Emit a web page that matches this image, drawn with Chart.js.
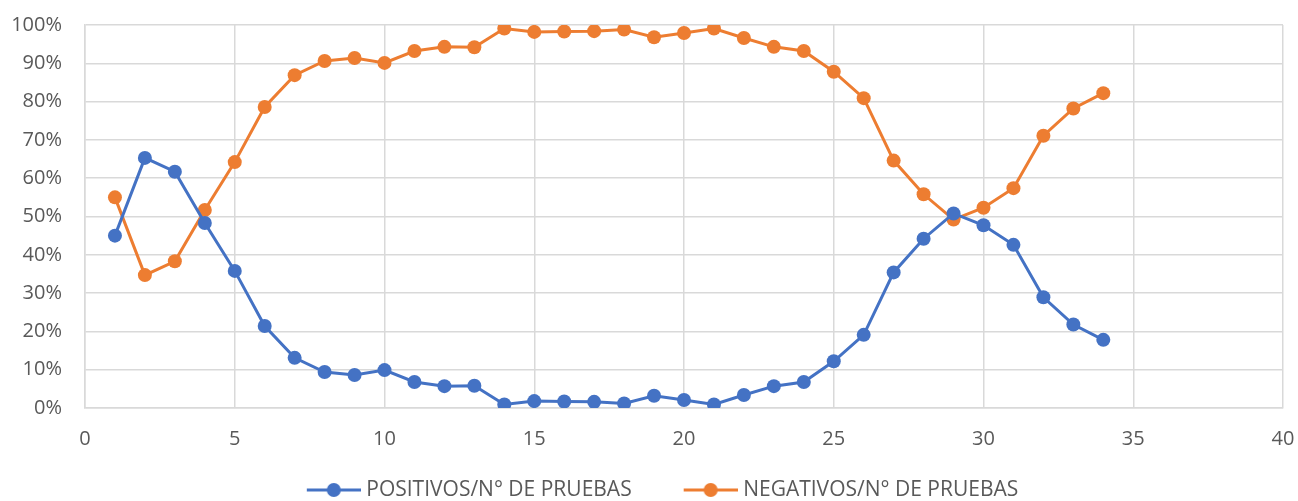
<!DOCTYPE html>
<html>
<head>
<meta charset="utf-8">
<script src="https://cdn.jsdelivr.net/npm/chart.js@4"></script>
<style>
  html, body { margin: 0; padding: 0; background: #ffffff; }
  #wrap { width: 1298px; height: 501px; }
</style>
</head>
<body>
<div id="wrap"><canvas id="lineChart" width="1298" height="501"></canvas></div>
<script>
const semanas = [1, 2, 3, 4, 5, 6, 7, 8, 9, 10, 11, 12, 13, 14, 15, 16, 17,
  18, 19, 20, 21, 22, 23, 24, 25, 26, 27, 28, 29, 30, 31, 32, 33, 34];
const positivos = [45.0, 65.3, 61.7, 48.3, 35.8, 21.4, 13.1, 9.4, 8.6, 9.9, 6.8, 5.7, 5.8,
  0.9, 1.8, 1.7, 1.6, 1.2, 3.2, 2.1, 0.9, 3.4, 5.7, 6.8, 12.2, 19.1, 35.4, 44.2,
  50.8, 47.7, 42.6, 28.9, 21.8, 17.8];
const negativos = [55.0, 34.7, 38.3, 51.7, 64.2, 78.6, 86.9, 90.6, 91.4, 90.1, 93.2, 94.3, 94.2,
  99.1, 98.2, 98.3, 98.4, 98.8, 96.8, 97.9, 99.1, 96.6, 94.3, 93.2, 87.8, 80.9, 64.6, 55.8,
  49.2, 52.3, 57.4, 71.1, 78.2, 82.2];
const xTicks = [0, 5, 10, 15, 20, 25, 30, 35, 40];
const seriesNames = ['POSITIVOS/N° DE PRUEBAS', 'NEGATIVOS/N° DE PRUEBAS'];

const blue = '#4472C4';
const orange = '#ED7D31';
const gridColor = '#D9D9D9';
const textColor = '#595959';
const fontFamily = '"Open Sans", "Noto Sans", sans-serif';

// legend marker: line with a dot, pushed to the right so it sits close to the text
// (the blank part on the left gives the wider gap between the two entries)
function legendMarker(color) {
  const c = document.createElement('canvas');
  c.width = 101;
  c.height = 16;
  const g = c.getContext('2d');
  g.strokeStyle = color;
  g.lineWidth = 3;
  g.beginPath();
  g.moveTo(47, 8);
  g.lineTo(101, 8);
  g.stroke();
  g.fillStyle = color;
  g.beginPath();
  g.arc(74, 8, 7, 0, Math.PI * 2);
  g.fill();
  return c;
}

function toPoints(values) {
  return semanas.map((s, i) => ({ x: s, y: values[i] }));
}

document.addEventListener('DOMContentLoaded', function () {
  const ctx = document.getElementById('lineChart').getContext('2d');

  new Chart(ctx, {
    type: 'line',
    data: {
      datasets: [{
        label: seriesNames[0],
        data: toPoints(positivos),
        borderColor: blue,
        backgroundColor: blue,
        borderWidth: 3,
        pointRadius: 7,
        pointBorderWidth: 0,
        pointStyle: 'circle',
        legendMarker: legendMarker(blue)
      }, {
        label: seriesNames[1],
        data: toPoints(negativos),
        borderColor: orange,
        backgroundColor: orange,
        borderWidth: 3,
        pointRadius: 7,
        pointBorderWidth: 0,
        pointStyle: 'circle',
        legendMarker: legendMarker(orange)
      }]
    },
    options: {
      responsive: false,
      animation: false,
      layout: { autoPadding: false, padding: { top: 25, right: 15, left: 0, bottom: -9.5 } },
      plugins: {
        tooltip: { enabled: false },
        legend: {
          position: 'bottom',
          labels: {
            color: textColor,
            font: { size: 21, family: fontFamily },
            usePointStyle: true,
            pointStyleWidth: 91,
            padding: 10,
            generateLabels: function (chart) {
              return chart.data.datasets.map((ds, i) => ({
                text: ds.label,
                fontColor: textColor,
                pointStyle: ds.legendMarker,
                datasetIndex: i,
                hidden: false,
                lineWidth: 0
              }));
            }
          }
        }
      },
      scales: {
        x: {
          type: 'linear',
          min: 0,
          max: 40,
          afterBuildTicks: function (axis) {
            axis.ticks = xTicks.map(v => ({ value: v }));
          },
          afterFit: function (axis) {
            axis.height = 61.5;
            axis.paddingLeft = 0;
            axis.paddingRight = 0;
          },
          ticks: {
            color: textColor,
            font: { size: 20, family: fontFamily },
            padding: 19,
            maxRotation: 0
          },
          grid: { color: gridColor, lineWidth: 1.5, drawTicks: false },
          border: { color: gridColor, width: 1.5 }
        },
        y: {
          min: 0,
          max: 100,
          afterFit: function (axis) {
            axis.width = 85;
            axis.paddingTop = 0;
            axis.paddingBottom = 0;
          },
          ticks: {
            stepSize: 10,
            color: textColor,
            font: { size: 20, family: fontFamily },
            padding: 23,
            callback: v => v + '%'
          },
          grid: { color: gridColor, lineWidth: 1.5, drawTicks: false },
          border: { color: gridColor, width: 1.5 }
        }
      }
    }
  });
});
</script>
</body>
</html>
